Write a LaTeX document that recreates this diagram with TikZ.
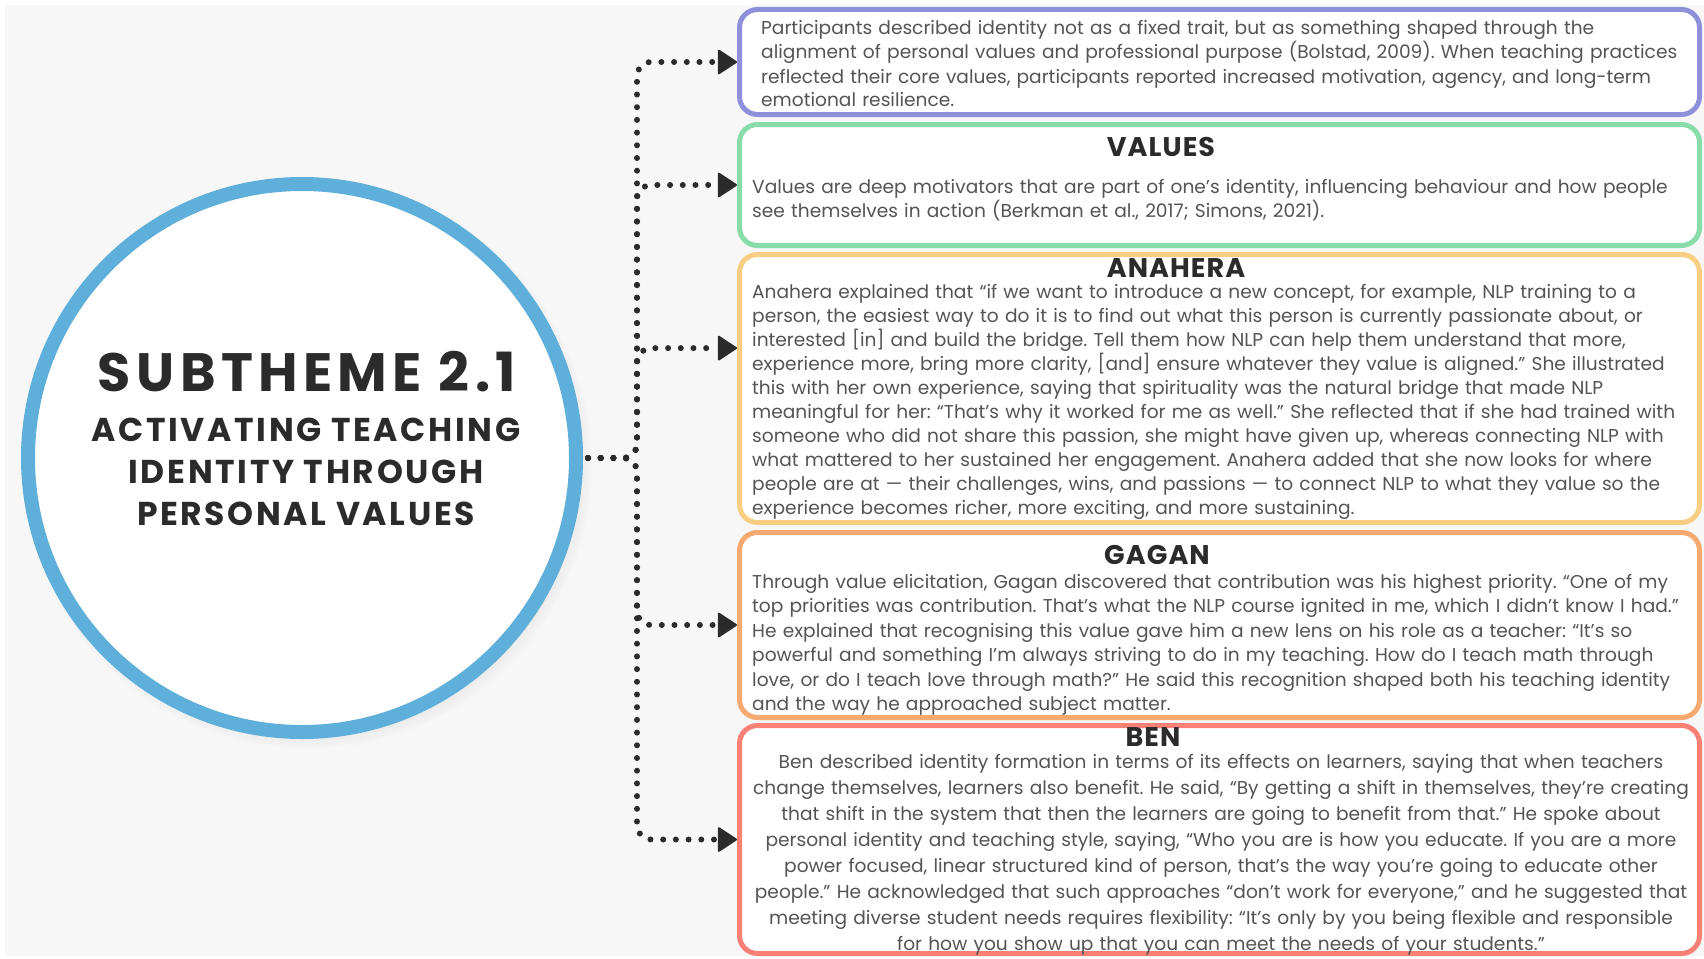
\documentclass[tikz,border=0pt]{standalone}
\usepackage{fontspec}
\setmainfont{Poppins}
\newfontfamily\titlefont{Poppins}[LetterSpace=10]
\newfontfamily\subtitlefont{Poppins}[LetterSpace=8]
\newfontfamily\headfont{Poppins}[LetterSpace=4]
\usetikzlibrary{arrows.meta,shadows,calc}

\definecolor{pagegray}{HTML}{F7F7F7}
\definecolor{ringblue}{HTML}{5EAFDA}
\definecolor{inkdark}{HTML}{2B2B2B}
\definecolor{bodygray}{HTML}{545454}
\definecolor{framepurple}{HTML}{8E91DA}
\definecolor{framegreen}{HTML}{87DCAA}
\definecolor{frameyellow}{HTML}{F9CE82}
\definecolor{frameorange}{HTML}{F7AA70}
\definecolor{framered}{HTML}{F88075}

\begin{document}
\frenchspacing
\begin{tikzpicture}[x=1pt,y=-1pt,
  card/.style={draw=#1, line width=5pt, fill=white, rounded corners=18pt,
    anchor=north west, inner sep=0pt},
  conn/.style={draw=inkdark, line width=6pt, line cap=round,
    dash pattern=on 0pt off 12.7pt, rounded corners=14pt,
    -{Triangle[length=20pt,width=26pt,line width=2pt,round]}},
  body/.style={anchor=base west, inner sep=0pt, text width=1000pt, align=left,
    text=bodygray, font=\fontsize{18.6}{24}\selectfont},
  bodyc/.style={body, anchor=base, align=center},
  heading/.style={anchor=base, inner sep=0pt, text=inkdark,
    font=\headfont\fontsize{27}{27}\selectfont\bfseries},
  title/.style={anchor=base, inner sep=0pt, text=inkdark,
    font=\titlefont\fontsize{54}{54}\selectfont\bfseries},
  subtitle/.style={anchor=base, inner sep=0pt, text=inkdark,
    font=\subtitlefont\fontsize{33}{33}\selectfont\bfseries},
]
\useasboundingbox (0,0) rectangle (1704,958);
\fill[white] (0,0) rectangle (1704,958);
\fill[pagegray] (5,5) rectangle (1704,956);

% central theme circle
\node[circle, draw=ringblue, line width=14pt, fill=white, minimum size=548pt,
  inner sep=0pt,
  circular drop shadow={shadow xshift=5pt, shadow yshift=-6pt, shadow scale=1.04, opacity=0.3}]
  (hub) at (302,458) {};
\node[title] (ttl) at (307,391) {SUBTHEME 2.1};
\node[subtitle] (st1) at (306,441) {ACTIVATING TEACHING};
\node[subtitle] (st2) at (306,483) {IDENTITY THROUGH};
\node[subtitle] (st3) at (306,525) {PERSONAL VALUES};

% content cards
\node[card=framepurple, minimum width=960pt, minimum height=105pt] (b1) at (737,7) {};
\node[card=framegreen, minimum width=960pt, minimum height=121pt] (b2) at (737,122) {};
\node[card=frameyellow, minimum width=960pt, minimum height=268pt] (b3) at (737,252) {};
\node[card=frameorange, minimum width=960pt, minimum height=185pt] (b4) at (737,530) {};
\node[card=framered, minimum width=960pt, minimum height=228pt] (b5) at (737,723) {};

% card texts
\node[body] (tx1) at (761,35) {Participants described identity not as a fixed trait, but as something shaped through the\\
alignment of personal values and professional purpose (Bolstad, 2009). When teaching practices\\
reflected their core values, participants reported increased motivation, agency, and long-term\\
emotional resilience.};

\node[heading] (h2) at (1161,156) {VALUES};
\node[body] (tx2) at (752,193) {Values are deep motivators that are part of one’s identity, influencing behaviour and how people\\
see themselves in action (Berkman et al., 2017; Simons, 2021).};

\node[heading] (h3) at (1176,277) {ANAHERA};
\node[body] (tx3) at (752,298) {Anahera explained that “if we want to introduce a new concept, for example, NLP training to a\\
person, the easiest way to do it is to find out what this person is currently passionate about, or\\
interested [in] and build the bridge. Tell them how NLP can help them understand that more,\\
experience more, bring more clarity, [and] ensure whatever they value is aligned.” She illustrated\\
this with her own experience, saying that spirituality was the natural bridge that made NLP\\
meaningful for her: “That’s why it worked for me as well.” She reflected that if she had trained with\\
someone who did not share this passion, she might have given up, whereas connecting NLP with\\
what mattered to her sustained her engagement. Anahera added that she now looks for where\\
people are at — their challenges, wins, and passions — to connect NLP to what they value so the\\
experience becomes richer, more exciting, and more sustaining.};

\node[heading] (h4) at (1157,564) {GAGAN};
\node[body, font=\fontsize{18.6}{24.5}\selectfont] (tx4) at (752,588) {Through value elicitation, Gagan discovered that contribution was his highest priority. “One of my\\
top priorities was contribution. That’s what the NLP course ignited in me, which I didn’t know I had.”\\
He explained that recognising this value gave him a new lens on his role as a teacher: “It’s so\\
powerful and something I’m always striving to do in my teaching. How do I teach math through\\
love, or do I teach love through math?” He said this recognition shaped both his teaching identity\\
and the way he approached subject matter.};

\node[heading] (h5) at (1153,746) {BEN};
\node[bodyc, font=\fontsize{18.6}{26}\selectfont] (tx5) at (1221,768) {Ben described identity formation in terms of its effects on learners, saying that when teachers\\
change themselves, learners also benefit. He said, “By getting a shift in themselves, they’re creating\\
that shift in the system that then the learners are going to benefit from that.” He spoke about\\
personal identity and teaching style, saying, “Who you are is how you educate. If you are a more\\
power focused, linear structured kind of person, that’s the way you’re going to educate other\\
people.” He acknowledged that such approaches “don’t work for everyone,” and he suggested that\\
meeting diverse student needs requires flexibility: “It’s only by you being flexible and responsible\\
for how you show up that you can meet the needs of your students.”};

% dotted connectors from the circle to each card
\coordinate (fork) at (637,458);
\coordinate (b3in) at ($(b3.north west)!0.352!(b3.south west)$);
\draw[conn] ([xshift=5pt]hub.east) -- (fork) |- (b1.west);
\draw[conn] ([xshift=5pt]hub.east) -- (fork) |- (b2.west);
\draw[conn] ([xshift=5pt]hub.east) -- (fork) |- (b3in);
\draw[conn] ([xshift=5pt]hub.east) -- (fork) |- (b4.west);
\draw[conn] ([xshift=5pt]hub.east) -- (fork) |- (b5.west);
\end{tikzpicture}
\end{document}
